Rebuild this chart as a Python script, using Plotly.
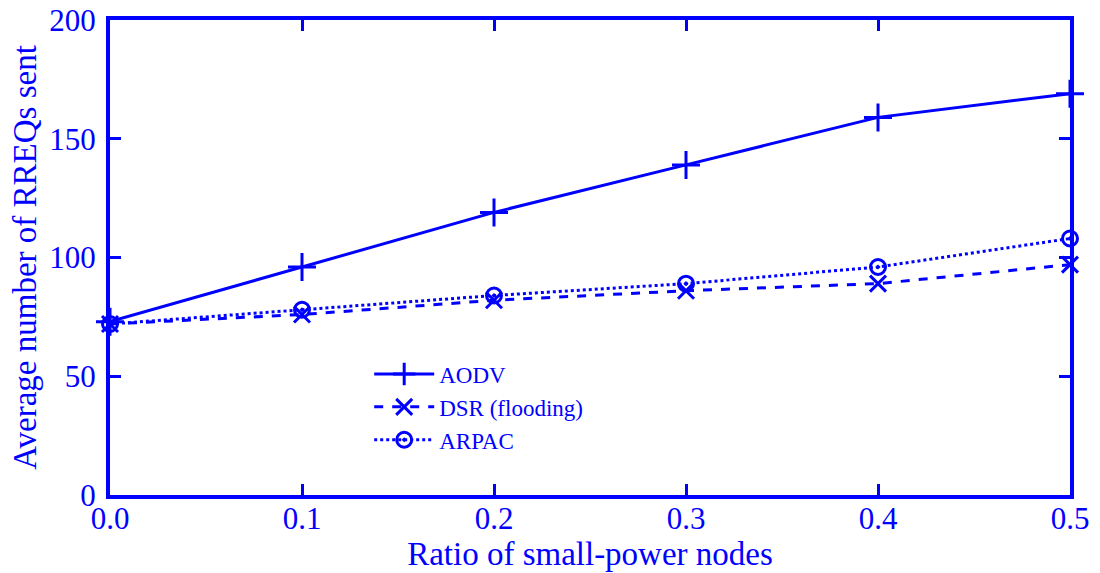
import plotly.graph_objects as go

ratios = [0.0, 0.1, 0.2, 0.3, 0.4, 0.5]
aodv = [73, 96, 119, 139, 159, 169]
dsr = [72, 76, 82, 86, 89, 97]
arpac = [72, 78, 84, 89, 96, 108]
x_ticks = [0.0, 0.1, 0.2, 0.3, 0.4, 0.5]
x_tick_labels = ["0.0", "0.1", "0.2", "0.3", "0.4", "0.5"]
y_ticks = [0, 50, 100, 150, 200]

BLUE = "#0000ff"
FONT = "Liberation Serif"

fig = go.Figure()
fig.add_trace(go.Scatter(x=ratios, y=aodv, name="AODV", mode="lines+markers", cliponaxis=False,
                         line=dict(color=BLUE, width=3),
                         marker=dict(symbol="cross-thin-open", size=20, line=dict(color=BLUE, width=3))))
fig.add_trace(go.Scatter(x=ratios, y=dsr, name="DSR (flooding)", mode="lines+markers", cliponaxis=False,
                         line=dict(color=BLUE, width=3, dash="dash"),
                         marker=dict(symbol="x-thin-open", size=16, line=dict(color=BLUE, width=3))))
fig.add_trace(go.Scatter(x=ratios, y=arpac, name="ARPAC", mode="lines+markers", cliponaxis=False,
                         line=dict(color=BLUE, width=3, dash="dot"),
                         marker=dict(symbol="circle-open-dot", size=15, color=BLUE, line=dict(color=BLUE, width=3))))

axis_common = dict(showgrid=False, zeroline=False, showline=True, linecolor=BLUE, linewidth=4,
                   mirror="ticks", ticks="inside", ticklen=11, tickwidth=3, tickcolor=BLUE,
                   automargin=False,
                   tickfont=dict(family=FONT, size=31, color=BLUE))

fig.update_xaxes(range=[0, 0.5], tickvals=x_ticks, ticktext=x_tick_labels, ticklabelstandoff=-7,
                 title=dict(text="Ratio of small-power nodes", font=dict(family=FONT, size=33, color=BLUE), standoff=0),
                 **axis_common)
fig.update_yaxes(range=[0, 200], tickvals=y_ticks, ticklabelstandoff=4,
                 title=dict(text="Average number of RREQs sent", font=dict(family=FONT, size=33, color=BLUE), standoff=4),
                 **axis_common)

fig.update_layout(
    width=1100, height=573,
    margin=dict(l=110, r=30, t=20, b=78),
    paper_bgcolor="white", plot_bgcolor="white",
    font=dict(family=FONT, color=BLUE),
    legend=dict(x=0.27, y=0.30, xanchor="left", yanchor="top", bgcolor="rgba(0,0,0,0)",
                font=dict(family=FONT, size=23, color=BLUE), itemwidth=60, tracegroupgap=0),
)

fig.write_html("out.html")
